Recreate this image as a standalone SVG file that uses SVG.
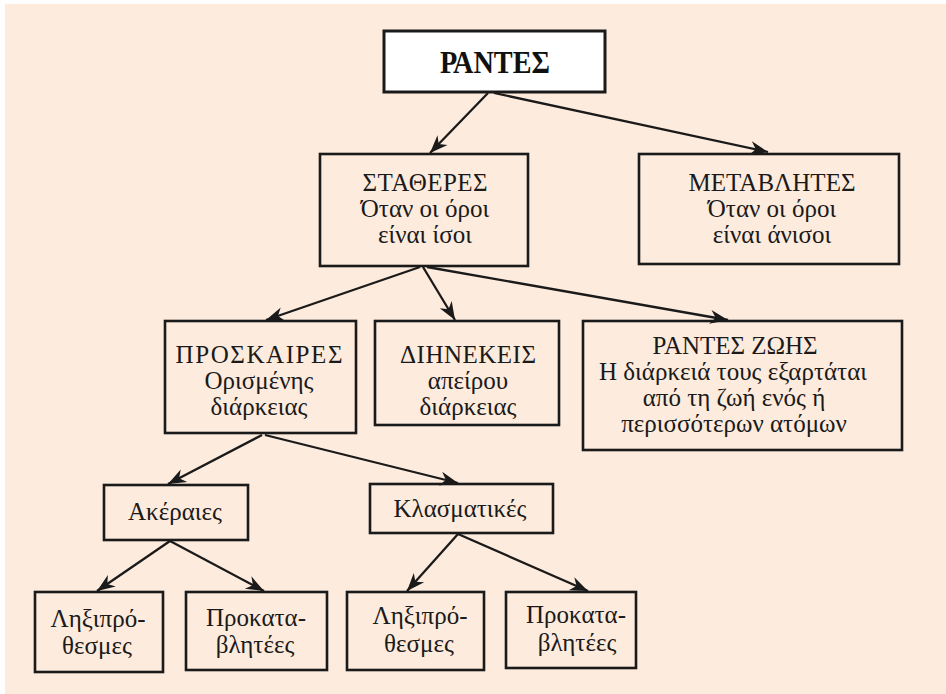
<svg xmlns="http://www.w3.org/2000/svg" width="946" height="694" viewBox="0 0 946 694">
  <defs>
    <marker id="arrow" markerUnits="userSpaceOnUse" markerWidth="22" markerHeight="18" viewBox="-20 -9 22 18" refX="0" refY="0" orient="auto">
      <path d="M0,0 L-18,-7 L-12.5,0 L-18,7 Z" fill="#1a1a1a"/>
    </marker>
    <style>
      .box { fill: none; stroke: #1a1a1a; stroke-width: 2.6; }
      .root { fill: #ffffff; stroke: #1a1a1a; stroke-width: 3; }
      .t { font-family: "Liberation Serif", "Times New Roman", serif; font-size: 25px; fill: #1a1a1a; text-anchor: middle; }
      .cap { font-size: 25px; }
      .title { font-family: "Liberation Serif", "Times New Roman", serif; font-size: 31px; font-weight: bold; fill: #111111; text-anchor: middle; }
      .edge { fill: none; stroke: #1a1a1a; stroke-width: 2.3; marker-end: url(#arrow); }
    </style>
  </defs>

  <!-- page -->
  <rect x="0" y="0" width="946" height="694" fill="#fefefe"/>
  <rect x="5" y="4" width="941" height="690" fill="#fdebdd"/>

  <!-- connectors -->
  <g id="edges">
    <path class="edge" d="M488,93 L430,153"/>
    <path class="edge" d="M494,93 L768,152"/>
    <path class="edge" d="M420,267 L266,320"/>
    <path class="edge" d="M423,267 L455,320"/>
    <path class="edge" d="M427,267 L728,320"/>
    <path class="edge" d="M262,435 L168,484"/>
    <path class="edge" d="M265,435 L458,483"/>
    <path class="edge" d="M170,541 L97,591"/>
    <path class="edge" d="M170,541 L264,591"/>
    <path class="edge" d="M458,534 L407,591"/>
    <path class="edge" d="M458,534 L588,591"/>
  </g>

  <g id="rantes">
    <rect class="root" x="384" y="31" width="221" height="61"/>
    <text class="title" x="495" y="73" textLength="110" lengthAdjust="spacingAndGlyphs">ΡΑΝΤΕΣ</text>
  </g>

  <g id="statheres">
    <rect class="box" x="320" y="154" width="208" height="112"/>
    <text class="t cap" x="425" y="191" textLength="125">ΣΤΑΘΕΡΕΣ</text>
    <text class="t" x="425" y="217">Όταν οι όροι</text>
    <text class="t" x="425" y="243">είναι ίσοι</text>
  </g>

  <g id="metavlites">
    <rect class="box" x="639" y="154" width="260" height="110"/>
    <text class="t cap" x="772" y="191" textLength="167">ΜΕΤΑΒΛΗΤΕΣ</text>
    <text class="t" x="772" y="217">Όταν οι όροι</text>
    <text class="t" x="772" y="243">είναι άνισοι</text>
  </g>

  <g id="proskaires">
    <rect class="box" x="165" y="321" width="191" height="112"/>
    <text class="t cap" x="259" y="363" textLength="167">ΠΡΟΣΚΑΙΡΕΣ</text>
    <text class="t" x="259" y="389">Ορισμένης</text>
    <text class="t" x="259" y="415">διάρκειας</text>
  </g>

  <g id="dinekeis">
    <rect class="box" x="375" y="321" width="184" height="104"/>
    <text class="t cap" x="468" y="363" textLength="136">ΔΙΗΝΕΚΕΙΣ</text>
    <text class="t" x="468" y="389">απείρου</text>
    <text class="t" x="468" y="415">διάρκειας</text>
  </g>

  <g id="rantes-zois">
    <rect class="box" x="583" y="321" width="319" height="129"/>
    <text class="t cap" x="735" y="354" textLength="165">ΡΑΝΤΕΣ ΖΩΗΣ</text>
    <text class="t" x="733" y="380">Η διάρκειά τους εξαρτάται</text>
    <text class="t" x="734" y="406">από τη ζωή ενός ή</text>
    <text class="t" x="734" y="432">περισσότερων ατόμων</text>
  </g>

  <g id="akeraies">
    <rect class="box" x="104" y="485" width="144" height="55"/>
    <text class="t" x="175" y="520">Ακέραιες</text>
  </g>

  <g id="klasmatikes">
    <rect class="box" x="370" y="484" width="183" height="49"/>
    <text class="t" x="460" y="517">Κλασματικές</text>
  </g>

  <g id="lixiprothesmes-1">
    <rect class="box" x="35" y="592" width="128" height="80"/>
    <text class="t" x="98" y="627">Ληξιπρό-</text>
    <text class="t" x="97" y="654">θεσμες</text>
  </g>

  <g id="prokatavlitees-1">
    <rect class="box" x="186" y="592" width="141" height="78"/>
    <text class="t" x="256" y="626">Προκατα-</text>
    <text class="t" x="255" y="653">βλητέες</text>
  </g>

  <g id="lixiprothesmes-2">
    <rect class="box" x="347" y="592" width="137" height="78"/>
    <text class="t" x="420" y="624">Ληξιπρό-</text>
    <text class="t" x="419" y="652">θεσμες</text>
  </g>

  <g id="prokatavlitees-2">
    <rect class="box" x="506" y="592" width="130" height="76"/>
    <text class="t" x="576" y="623">Προκατα-</text>
    <text class="t" x="577" y="651">βλητέες</text>
  </g>
</svg>
